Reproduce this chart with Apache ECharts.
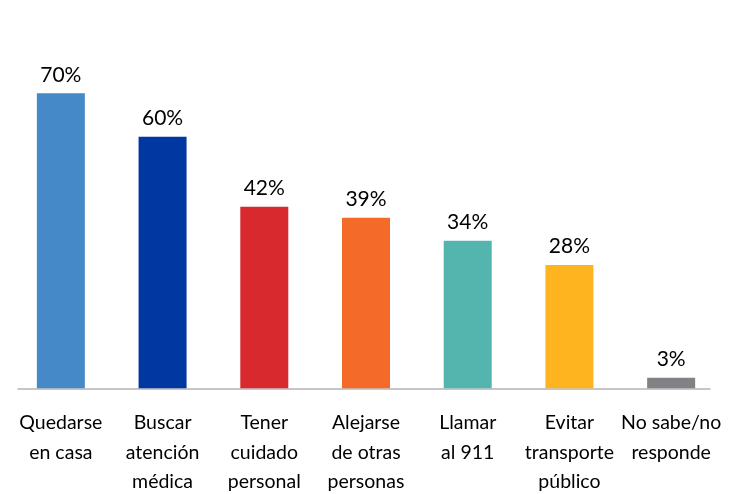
<!DOCTYPE html>
<html>
<head>
<meta charset="utf-8">
<script src="https://cdn.jsdelivr.net/npm/echarts@6/dist/echarts.min.js"></script>
<style>
html,body{margin:0;padding:0;background:#fff;}
#chart{width:738px;height:494px;}
</style>
</head>
<body>
<div id="chart"></div>
<script>
const categories = [
  "Quedarse\nen casa",
  "Buscar\natención\nmédica",
  "Tener\ncuidado\npersonal",
  "Alejarse\nde otras\npersonas",
  "Llamar\nal 911",
  "Evitar\ntransporte\npúblico",
  "No sabe/no\nresponde"
];
// bar heights (percent)
const values = [69.4, 59.2, 42.7, 40.1, 34.7, 29.0, 2.5];
// printed value labels
const valueLabels = ["70%", "60%", "42%", "39%", "34%", "28%", "3%"];
const colors = ["#4589C8", "#0037A0", "#D8292F", "#F36A29", "#54B5AF", "#FDB41F", "#818285"];

const FONT = "Lato, 'DejaVu Sans Condensed', sans-serif";

const chart = echarts.init(document.getElementById('chart'), null, {renderer: 'canvas'});
chart.setOption({
  animation: false,
  backgroundColor: '#ffffff',
  grid: [
    {left: 10, right: 16, top: 48.3, bottom: 105.7, containLabel: false, outerBoundsMode: 'none'},
    {left: 18, right: 28, top: 380, bottom: 105.7, containLabel: false, outerBoundsMode: 'none'}
  ],
  xAxis: [
    {
      type: 'category',
      gridIndex: 0,
      data: categories,
      axisLine: {show: false},
      axisTick: {show: false},
      axisLabel: {
        interval: 0,
        margin: 20,
        color: '#000',
        fontFamily: FONT,
        fontSize: 19.5,
        lineHeight: 29.5
      }
    },
    {
      type: 'category',
      gridIndex: 1,
      data: categories,
      axisLine: {show: true, lineStyle: {color: '#b4b4b4', width: 1.5}},
      axisTick: {show: false},
      axisLabel: {show: false}
    }
  ],
  yAxis: [
    {type: 'value', gridIndex: 0, min: 0, max: 80, show: false, splitLine: {show: false}},
    {type: 'value', gridIndex: 1, min: 0, max: 1, show: false, splitLine: {show: false}}
  ],
  series: [{
    type: 'bar',
    xAxisIndex: 0,
    yAxisIndex: 0,
    barWidth: 48,
    data: values.map((v, i) => ({value: v, itemStyle: {color: colors[i]}})),
    label: {
      show: true,
      position: 'top',
      distance: 8,
      color: '#000',
      fontFamily: FONT,
      fontSize: 21,
      formatter: (p) => valueLabels[p.dataIndex]
    }
  }]
});
</script>
</body>
</html>
